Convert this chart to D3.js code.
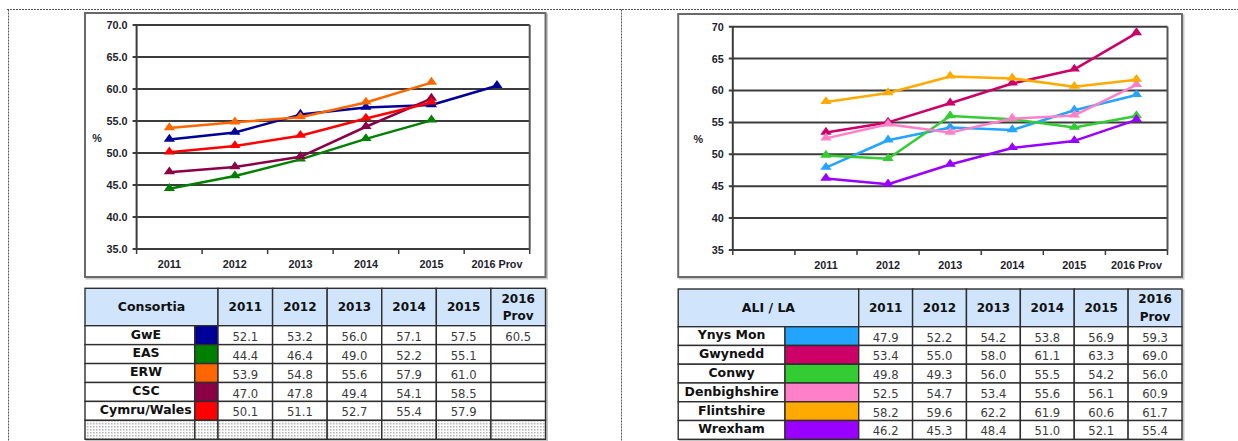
<!DOCTYPE html>
<html>
<head>
<meta charset="utf-8">
<script src="https://cdn.jsdelivr.net/npm/d3@7"></script>
<style>
html, body { margin: 0; padding: 0; background: #fff; }
svg { display: block; }
</style>
</head>
<body>
<svg id="chart" width="1238" height="441"></svg>
<script>
// ---- data ----
const years = ["2011", "2012", "2013", "2014", "2015", "2016 Prov"];
const rightCategories = ["", "2011", "2012", "2013", "2014", "2015", "2016 Prov"];
const yearHeaders = [["2011"], ["2012"], ["2013"], ["2014"], ["2015"], ["2016", "Prov"]];

const leftTicks = [35, 40, 45, 50, 55, 60, 65, 70];
const rightTicks = [35, 40, 45, 50, 55, 60, 65, 70];

const consortiaNames = ["GwE", "EAS", "ERW", "CSC", "Cymru/Wales"];
const consortiaColors = ["#000099", "#008000", "#ff6600", "#8c0048", "#ff0000"];
const gweValues = [52.1, 53.2, 56.0, 57.1, 57.5, 60.5];
const easValues = [44.4, 46.4, 49.0, 52.2, 55.1, null];
const erwValues = [53.9, 54.8, 55.6, 57.9, 61.0, null];
const cscValues = [47.0, 47.8, 49.4, 54.1, 58.5, null];
const walesValues = [50.1, 51.1, 52.7, 55.4, 57.9, null];

const laNames = ["Ynys Mon", "Gwynedd", "Conwy", "Denbighshire", "Flintshire", "Wrexham"];
const laColors = ["#22a4ff", "#cc0066", "#33cc33", "#ff80c8", "#ffaa00", "#9900ff"];
const ynysMonValues = [47.9, 52.2, 54.2, 53.8, 56.9, 59.3];
const gwyneddValues = [53.4, 55.0, 58.0, 61.1, 63.3, 69.0];
const conwyValues = [49.8, 49.3, 56.0, 55.5, 54.2, 56.0];
const denbighValues = [52.5, 54.7, 53.4, 55.6, 56.1, 60.9];
const flintValues = [58.2, 59.6, 62.2, 61.9, 60.6, 61.7];
const wrexhamValues = [46.2, 45.3, 48.4, 51.0, 52.1, 55.4];

const consortiaValues = [gweValues, easValues, erwValues, cscValues, walesValues];
const laValues = [ynysMonValues, gwyneddValues, conwyValues, denbighValues, flintValues, wrexhamValues];

// ---- drawing ----
const svg = d3.select("#chart");

const defs = svg.append("defs");
const pat = defs.append("pattern")
    .attr("id", "dots")
    .attr("width", 3).attr("height", 3)
    .attr("patternUnits", "userSpaceOnUse");
pat.append("rect").attr("width", 3).attr("height", 3).attr("fill", "#fbfbfb");
pat.append("rect").attr("width", 1.5).attr("height", 1.5).attr("fill", "#b4b4b4");

// dotted page borders
const dotted = svg.append("g")
    .attr("stroke", "#555")
    .attr("stroke-width", 1)
    .attr("stroke-dasharray", "2,1");
dotted.append("line").attr("x1", 7).attr("x2", 1238).attr("y1", 9.5).attr("y2", 9.5);
dotted.append("line").attr("x1", 8.5).attr("x2", 8.5).attr("y1", 9.5).attr("y2", 441);
dotted.append("line").attr("x1", 621.5).attr("x2", 621.5).attr("y1", 9.5).attr("y2", 441);

function drawChart(opts) {
    const g = svg.append("g");
    const [fx0, fy0, fx1, fy1] = opts.frame;
    const [px0, px1, py0, py1] = opts.plot;

    // frame with soft shadow
    g.append("rect")
        .attr("x", fx0 + 1.5).attr("y", fy0 + 1.5)
        .attr("width", fx1 - fx0).attr("height", fy1 - fy0)
        .attr("fill", "none").attr("stroke", "#c8c8c8").attr("stroke-width", 2);
    g.append("rect")
        .attr("x", fx0).attr("y", fy0)
        .attr("width", fx1 - fx0).attr("height", fy1 - fy0)
        .attr("fill", "#fff").attr("stroke", "#6a6a6a").attr("stroke-width", 2);

    const x = d3.scaleBand().domain(opts.categories).range([px0, px1]).padding(0);
    const y = d3.scaleLinear().domain([35, 70]).range([py1, py0]);

    // gridlines
    g.append("g").selectAll("line")
        .data(opts.ticks)
        .join("line")
        .attr("x1", px0 - 4).attr("x2", px1)
        .attr("y1", d => y(d)).attr("y2", d => y(d))
        .attr("stroke", "#3c3c3c").attr("stroke-width", 2);

    // plot right edge and left axis
    g.append("line")
        .attr("x1", px1).attr("x2", px1).attr("y1", y(70)).attr("y2", y(35))
        .attr("stroke", "#555").attr("stroke-width", 2);
    g.append("line")
        .attr("x1", px0).attr("x2", px0).attr("y1", y(70)).attr("y2", y(35))
        .attr("stroke", "#3c3c3c").attr("stroke-width", 2);

    // bottom ticks between categories
    const edges = opts.categories.map(c => x(c)).concat([px1]);
    g.append("g").selectAll("line")
        .data(edges)
        .join("line")
        .attr("x1", d => d).attr("x2", d => d)
        .attr("y1", y(35)).attr("y2", y(35) + 5)
        .attr("stroke", "#3c3c3c").attr("stroke-width", 1.5);

    // y labels
    const yAxis = g.append("g")
        .attr("transform", `translate(${px0 - 9},0)`)
        .call(d3.axisLeft(y).tickValues(opts.ticks).tickSize(0).tickFormat(opts.fmt));
    yAxis.select(".domain").remove();
    yAxis.selectAll("text")
        .attr("x", 0)
        .style("font-family", "Liberation Sans, Arial, sans-serif")
        .style("font-weight", "bold")
        .style("font-size", "10.8px")
        .attr("fill", "#1e1e2c");

    // x labels
    const xAxis = g.append("g")
        .attr("transform", `translate(0,${opts.xLabelY})`)
        .call(d3.axisBottom(x).tickSize(0));
    xAxis.select(".domain").remove();
    xAxis.selectAll("text")
        .attr("y", 0)
        .attr("dy", "0.35em")
        .style("font-family", "Liberation Sans, Arial, sans-serif")
        .style("font-weight", "bold")
        .style("font-size", "10.8px")
        .attr("fill", "#1e1e2c");

    // % label
    g.append("text")
        .attr("x", opts.pct[0]).attr("y", opts.pct[1])
        .attr("text-anchor", "middle").attr("dy", "0.35em")
        .style("font-family", "Liberation Sans, Arial, sans-serif")
        .style("font-weight", "bold").style("font-size", "10.8px")
        .attr("fill", "#1e1e2c")
        .text("%");

    // series
    const line = d3.line()
        .defined(d => d.v != null)
        .x(d => x(d.c) + x.bandwidth() / 2)
        .y(d => y(d.v));
    const tri = d3.symbol(d3.symbolTriangle, 50);

    opts.series.forEach(s => {
        const pts = years.map((c, i) => ({c: c, v: s.values[i]}));
        g.append("path")
            .datum(pts)
            .attr("d", line)
            .attr("fill", "none")
            .attr("stroke", s.color)
            .attr("stroke-width", 2.5)
            .attr("stroke-linejoin", "round");
        g.append("g").selectAll("path")
            .data(pts.filter(d => d.v != null))
            .join("path")
            .attr("d", tri)
            .attr("transform", d => `translate(${x(d.c) + x.bandwidth() / 2},${y(d.v) - 0.5}) scale(1.05,0.85)`)
            .attr("fill", s.color);
    });
}

function drawTable(opts) {
    const g = svg.append("g");
    const cols = opts.cols;          // column edges
    const [top, headBottom, bottom] = opts.rows;
    const nRows = opts.names.length + (opts.hatched ? 1 : 0);
    const rowH = (bottom - headBottom) / nRows;
    const yearX = d3.scaleBand().domain(years).range([cols[2], cols[3]]);

    const cellStyle = sel => sel
        .attr("stroke", "#2e2e2e").attr("stroke-width", 1.4);

    // shadow
    g.append("rect")
        .attr("x", cols[0] + 1.5).attr("y", top + 1.5)
        .attr("width", cols[3] - cols[0]).attr("height", bottom - top)
        .attr("fill", "none").attr("stroke", "#c4c4c4").attr("stroke-width", 2);

    // header
    g.append("rect")
        .attr("x", cols[0]).attr("y", top)
        .attr("width", cols[2] - cols[0]).attr("height", headBottom - top)
        .attr("fill", "#d0e4fc").call(cellStyle);
    g.append("text")
        .attr("x", (cols[0] + cols[2]) / 2).attr("y", (top + headBottom) / 2)
        .attr("text-anchor", "middle").attr("dy", "0.35em")
        .style("font-family", "DejaVu Sans, sans-serif")
        .style("font-weight", "bold").style("font-size", "12.5px")
        .attr("fill", "#111")
        .text(opts.title);
    years.forEach((yr, i) => {
        g.append("rect")
            .attr("x", yearX(yr)).attr("y", top)
            .attr("width", yearX.bandwidth()).attr("height", headBottom - top)
            .attr("fill", "#d0e4fc").call(cellStyle);
        const lines = yearHeaders[i];
        const cy = (top + headBottom) / 2;
        lines.forEach((t, k) => {
            g.append("text")
                .attr("x", yearX(yr) + yearX.bandwidth() / 2)
                .attr("y", cy + (k - (lines.length - 1) / 2) * 17.5)
                .attr("text-anchor", "middle").attr("dy", "0.36em")
                .style("font-family", "DejaVu Sans, sans-serif")
                .style("font-weight", "bold").style("font-size", "12px")
                .attr("fill", "#111")
                .text(t);
        });
    });

    // data rows
    opts.names.forEach((name, r) => {
        const ry = headBottom + r * rowH;
        const cy = ry + rowH / 2;
        g.append("rect")
            .attr("x", cols[0]).attr("y", ry)
            .attr("width", cols[1] - cols[0]).attr("height", rowH)
            .attr("fill", "#fff").call(cellStyle);
        g.append("rect")
            .attr("x", cols[1]).attr("y", ry)
            .attr("width", cols[2] - cols[1]).attr("height", rowH)
            .attr("fill", opts.colors[r]).call(cellStyle);
        const nt = g.append("text")
            .attr("x", opts.nameX).attr("y", cy - 1)
            .attr("text-anchor", "middle").attr("dy", "0.35em")
            .style("font-family", "DejaVu Sans, sans-serif")
            .style("font-weight", "bold").style("font-size", "12.5px")
            .attr("fill", "#111")
            .text(name);
        const w = nt.node().getComputedTextLength();
        const maxX = cols[1] - 3 - w / 2;
        if (opts.nameX > maxX) nt.attr("x", maxX);

        years.forEach((yr, i) => {
            g.append("rect")
                .attr("x", yearX(yr)).attr("y", ry)
                .attr("width", yearX.bandwidth()).attr("height", rowH)
                .attr("fill", "#fff").call(cellStyle);
            const v = opts.values[r][i];
            if (v != null) {
                g.append("text")
                    .attr("x", yearX(yr) + yearX.bandwidth() / 2).attr("y", cy + 1.5)
                    .attr("text-anchor", "middle").attr("dy", "0.35em")
                    .style("font-family", "DejaVu Sans, sans-serif")
                    .style("font-size", "11.6px")
                    .attr("fill", "#3a3a3a")
                    .text(v.toFixed(1));
            }
        });
    });

    if (opts.hatched) {
        const ry = headBottom + opts.names.length * rowH;
        const edges = [cols[0], cols[1]].concat(years.map(yr => yearX(yr))).concat([cols[3]]);
        for (let k = 0; k < edges.length - 1; k++) {
            g.append("rect")
                .attr("x", edges[k]).attr("y", ry)
                .attr("width", edges[k + 1] - edges[k]).attr("height", rowH)
                .attr("fill", "url(#dots)").call(cellStyle);
        }
    }
}

drawChart({
    frame: [85, 13, 545.5, 277],
    plot: [136.6, 529.7, 25, 249],
    categories: years,
    ticks: leftTicks,
    fmt: d3.format(".1f"),
    xLabelY: 264,
    pct: [97, 138],
    series: consortiaNames.map((n, i) => ({name: n, color: consortiaColors[i], values: consortiaValues[i]}))
});

drawChart({
    frame: [678.2, 14, 1182, 277],
    plot: [732.8, 1167.5, 26.7, 250],
    categories: rightCategories,
    ticks: rightTicks,
    fmt: d3.format("d"),
    xLabelY: 265,
    pct: [698.4, 139.3],
    series: laNames.map((n, i) => ({name: n, color: laColors[i], values: laValues[i]}))
});

drawTable({
    cols: [85, 194.8, 218, 545.5],
    rows: [288.3, 325.7, 439.3],
    title: "Consortia",
    names: consortiaNames,
    colors: consortiaColors,
    values: consortiaValues,
    nameX: 146,
    hatched: true
});

drawTable({
    cols: [678.2, 785, 858.7, 1182],
    rows: [289, 326.7, 439.3],
    title: "ALI / LA",
    names: laNames,
    colors: laColors,
    values: laValues,
    nameX: 731.6,
    hatched: false
});
</script>
</body>
</html>
